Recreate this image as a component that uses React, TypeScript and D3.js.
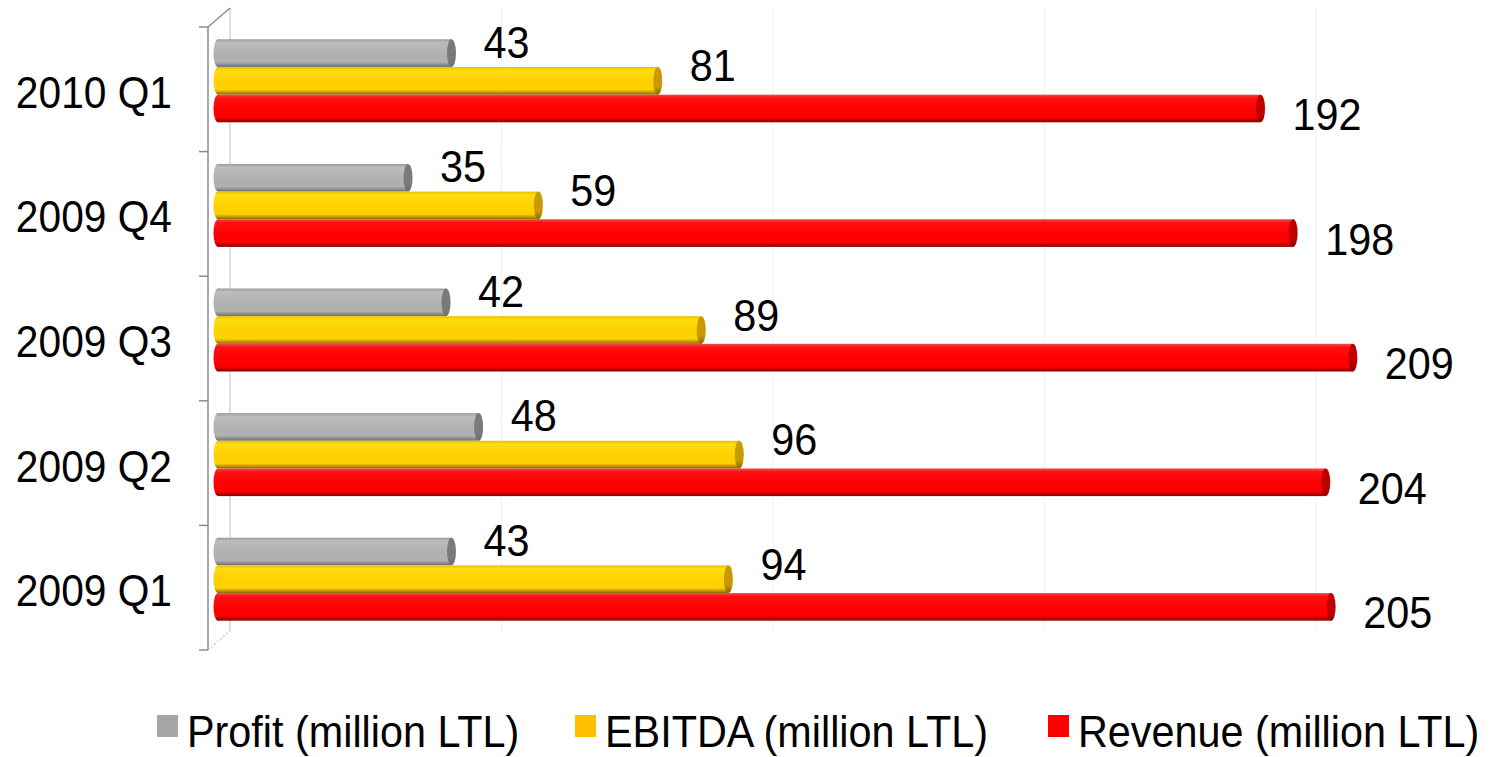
import React from "react";
import * as d3 from "d3";

// Quarterly results, top row first
const categories = ["2010 Q1", "2009 Q4", "2009 Q3", "2009 Q2", "2009 Q1"];
const profit = [43, 35, 42, 48, 43];
const ebitda = [81, 59, 89, 96, 94];
const revenue = [192, 198, 209, 204, 205];
const seriesNames = ["Profit (million LTL)", "EBITDA (million LTL)", "Revenue (million LTL)"];
const gridTicks = [50, 100, 150, 200];

const W = 1489;
const H = 757;
const FONT = "'Liberation Sans', Arial, sans-serif";
const SQUEEZE_CAT = 0.925;
const SQUEEZE = 0.94;

// Visual styling of each cylinder series
const seriesStyle = [
  { id: "gray", values: profit, legend: "#a6a6a6", top: "#9a9a9a", light: "#bdbdbd", mid: "#b0b0b0", dark: "#6e6e6e", cap: "#7a7a7a", labelDy: -11 },
  { id: "yellow", values: ebitda, legend: "#ffc000", top: "#e8c000", light: "#ffdc10", mid: "#ffd000", dark: "#8a6800", cap: "#c89a00", labelDy: -15 },
  { id: "red", values: revenue, legend: "#ff0000", top: "#e85050", light: "#ff1010", mid: "#ff0000", dark: "#8e0000", cap: "#c00000", labelDy: 6 },
];

export default function App() {
  const axisX = 208;
  const depthX = 22;
  const depthY = 19;
  const top = 27;
  const bottom = 650;

  const y = d3.scaleBand<string>().domain(categories).range([top, bottom]).padding(0);
  const x = d3.scaleLinear().domain([0, 200]).range([218, 1304]);
  const xBack = d3.scaleLinear().domain([0, 200]).range([axisX + depthX, axisX + depthX + 1086]);

  const groupH = 83;
  const inner = d3
    .scaleBand<number>()
    .domain(seriesStyle.map((_, i) => i))
    .range([0, groupH]);
  const barH = inner.bandwidth();

  const capRx = 4.5;
  const legendX = [157, 575, 1048];

  const boundaries = [...categories.map((c) => y(c) as number), bottom];

  return (
    <div style={{ position: "fixed", left: 0, top: 0, width: W, height: H, background: "#fff" }}>
      <svg width={W} height={H} style={{ display: "block" }}>
        <defs>
          {seriesStyle.map((s) => (
            <linearGradient key={s.id} id={`g-${s.id}`} x1="0" y1="0" x2="0" y2="1">
              <stop offset="0" stopColor={s.top} />
              <stop offset="0.12" stopColor={s.light} />
              <stop offset="0.55" stopColor={s.mid} />
              <stop offset="0.82" stopColor={s.mid} />
              <stop offset="1" stopColor={s.dark} />
            </linearGradient>
          ))}
          {seriesStyle.map((s) => (
            <linearGradient key={s.id + "c"} id={`c-${s.id}`} x1="0" y1="0" x2="0" y2="1">
              <stop offset="0" stopColor={s.cap} />
              <stop offset="0.7" stopColor={s.cap} />
              <stop offset="1" stopColor={s.dark} />
            </linearGradient>
          ))}
        </defs>

        {/* back wall gridlines */}
        {gridTicks.map((t) => (
          <line key={t} x1={xBack(t)} x2={xBack(t)} y1={top - depthY} y2={bottom - depthY} stroke="#f0f0f0" strokeWidth={1} />
        ))}
        <line x1={xBack(0)} x2={xBack(0)} y1={top - depthY} y2={bottom - depthY} stroke="#d6d6d6" strokeWidth={1.5} />
        <line x1={axisX} y1={top} x2={axisX + depthX} y2={top - depthY} stroke="#8c8c8c" strokeWidth={1.5} />
        <line x1={axisX} y1={bottom} x2={axisX + depthX} y2={bottom - depthY} stroke="#c4c4c4" strokeWidth={1.2} strokeDasharray="2 2" />

        {/* category axis */}
        <line x1={axisX} x2={axisX} y1={top} y2={bottom} stroke="#8c8c8c" strokeWidth={1.5} />
        {boundaries.map((b, i) => (
          <line key={i} x1={axisX - 9} x2={axisX} y1={b} y2={b} stroke="#8c8c8c" strokeWidth={1.5} />
        ))}
        {categories.map((c) => {
          const cy = (y(c) as number) + y.bandwidth() / 2 + 3;
          return (
            <text
              key={c}
              transform={`translate(172,${cy + 15.5}) scale(${SQUEEZE_CAT},1)`}
              textAnchor="end"
              fontFamily={FONT}
              fontSize={44}
              fill="#000"
            >
              {c}
            </text>
          );
        })}

        {/* cylinders */}
        {categories.map((c, ci) => {
          const gTop = (y(c) as number) + (y.bandwidth() - groupH) / 2 - 8.5;
          return (
            <g key={c}>
              {seriesStyle.map((s, si) => {
                const v = s.values[ci];
                const by = gTop + (inner(si) as number);
                const x0 = x(0);
                const x1 = x(v);
                return (
                  <g key={s.id}>
                    <ellipse cx={x0} cy={by + barH / 2} rx={capRx} ry={barH / 2} fill={`url(#g-${s.id})`} />
                    <rect x={x0} y={by} width={x1 - x0} height={barH} fill={`url(#g-${s.id})`} />
                    <ellipse cx={x1} cy={by + barH / 2} rx={capRx} ry={barH / 2} fill={`url(#c-${s.id})`} />
                  </g>
                );
              })}
            </g>
          );
        })}

        {/* value labels */}
        {categories.map((c, ci) => {
          const gTop = (y(c) as number) + (y.bandwidth() - groupH) / 2 - 8.5;
          return seriesStyle.map((s, si) => {
            const v = s.values[ci];
            const cy = gTop + (inner(si) as number) + barH / 2 + s.labelDy;
            return (
              <text
                key={c + s.id}
                transform={`translate(${x(v) + 32},${cy + 15.5}) scale(${SQUEEZE},1)`}
                fontFamily={FONT}
                fontSize={44}
                fill="#000"
              >
                {v}
              </text>
            );
          });
        })}

        {/* legend */}
        {seriesStyle.map((s, i) => (
          <g key={s.id}>
            <rect x={legendX[i]} y={715} width={21} height={22} fill={s.legend} />
            <text
              transform={`translate(${legendX[i] + 30},747) scale(${SQUEEZE},1)`}
              fontFamily={FONT}
              fontSize={44}
              fill="#000"
            >
              {seriesNames[i]}
            </text>
          </g>
        ))}
      </svg>
    </div>
  );
}
